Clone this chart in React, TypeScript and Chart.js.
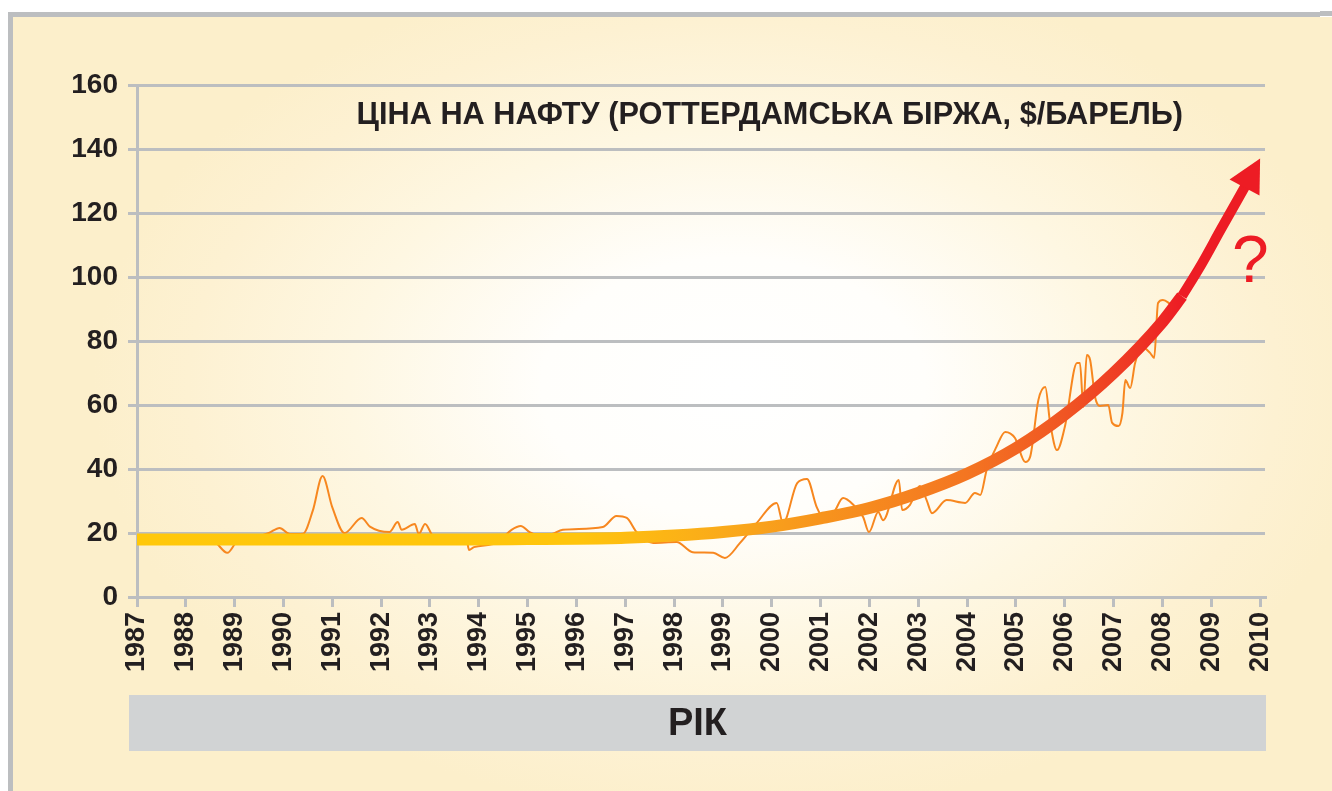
import React, { useEffect, useRef } from "react";
import { Chart, registerables } from "chart.js";
Chart.register(...registerables);

// ---- data ----
const yearTicks = [1987, 1988, 1989, 1990, 1991, 1992, 1993, 1994, 1995, 1996, 1997, 1998, 1999, 2000, 2001, 2002, 2003, 2004, 2005, 2006, 2007, 2008, 2009, 2010];
const valueTicks = [0, 20, 40, 60, 80, 100, 120, 140, 160];

// monthly price (thin line)
const priceYears = [
  1987.0, 1987.5, 1988.0, 1988.5, 1988.6, 1988.85, 1989.04, 1989.3, 1989.7, 1989.92,
  1990.13, 1990.4, 1990.6, 1990.8, 1991.0, 1991.25, 1991.6, 1991.77, 1992.17, 1992.34,
  1992.42, 1992.69, 1992.77, 1992.9, 1993.03, 1993.16, 1993.5, 1993.75, 1993.8, 1993.9,
  1994.37, 1994.67, 1994.86, 1995.04, 1995.3, 1995.5, 1995.72, 1996.54, 1996.82, 1997.03,
  1997.23, 1997.57, 1998.05, 1998.38, 1998.8, 1999.04, 1999.35, 1999.69, 2000.1, 2000.23,
  2000.52, 2000.72, 2000.92, 2001.05, 2001.26, 2001.46, 2001.67, 2001.87, 2001.99, 2002.18,
  2002.28, 2002.6, 2002.67, 2002.83, 2003.03, 2003.17, 2003.28, 2003.58, 2003.96, 2004.16,
  2004.27, 2004.4, 2004.6, 2004.78, 2004.98, 2005.19, 2005.29, 2005.46, 2005.6, 2005.7,
  2005.84, 2006.0, 2006.25, 2006.31, 2006.38, 2006.45, 2006.52, 2006.62, 2006.72, 2006.89,
  2006.97, 2007.1, 2007.18, 2007.24, 2007.34, 2007.44, 2007.58, 2007.75, 2007.83, 2007.91,
  2008.01, 2008.12, 2008.25,
];
const priceValues = [
  18.2, 18, 18, 17.8, 17.2, 13.8, 17.2, 18.2, 20, 21.6,
  19.7, 19.8, 27, 37.8, 28, 20, 24.7, 22, 20.3, 23.4,
  21, 22.8, 19.7, 22.8, 19.7, 16.9, 17.5, 17.8, 14.7, 15.6,
  16.9, 21, 22.2, 20.3, 19, 19.7, 21, 21.9, 25.3, 24.7,
  20.3, 16.9, 17.2, 14, 13.8, 12.2, 16.9, 23.1, 29.4, 23.1,
  35.6, 36.9, 28.1, 25, 26.2, 30.9, 28.8, 25, 20.3, 26.6,
  24, 36.6, 27.2, 28.8, 34.7, 30.3, 26.2, 30.3, 29.4, 32.5,
  31.9, 39.7, 46.9, 51.6, 49.7, 42.2, 43.8, 61.6, 65.6, 54.4,
  45.9, 53.1, 73.1, 73.1, 59.4, 75.6, 74, 62.5, 59.7, 60,
  54.4, 53.4, 57.5, 67.8, 65.3, 73.1, 78.1, 76.2, 74.7, 91.9,
  92.8, 92, 90,
];

// trend (thick gradient line)
const trendYears = [1987, 1988, 1989, 1990, 1991, 1992, 1993, 1994, 1995, 1996, 1997, 1998, 1999, 2000, 2001, 2002, 2003, 2004, 2005, 2006, 2007, 2008, 2008.4];
const trendValues = [18, 18, 18, 18, 18, 18, 18, 18, 18.1, 18.2, 18.5, 19.2, 20.3, 22, 24.6, 27.8, 32.5, 38.5, 46.5, 57, 70, 86, 94];

// forecast arrow
const forecastYears = [2008.4, 2008.8, 2009.2, 2009.7];
const forecastValues = [94, 104, 115, 128.5];
const arrowTipYear = 2010;
const arrowTipValue = 137;

const titleText = "ЦІНА НА НАФТУ (РОТТЕРДАМСЬКА БІРЖА, $/БАРЕЛЬ)";
const axisTitle = "РІК";
const questionText = "?";
const questionYear = 2009.8;
const questionValue = 98.5;

// ---- styles ----
const FONT = "'Liberation Sans', Arial, Helvetica, sans-serif";
const GRAY = "#BCBEC0";
const TEXT = "#231F20";
const RED = "#ED1C24";
const THIN = "#F7871F";

const overlayPlugin = {
  id: "overlay",
  afterDatasetsDraw(chart: any) {
    const { ctx, chartArea, scales } = chart;
    const x = scales.x, y = scales.y;
    ctx.save();
    // arrowhead
    const n = forecastYears.length;
    const bx = x.getPixelForValue(forecastYears[n - 1]);
    const by = y.getPixelForValue(forecastValues[n - 1]);
    const tx = x.getPixelForValue(arrowTipYear);
    const ty = y.getPixelForValue(arrowTipValue);
    const dx = tx - bx, dy = ty - by, len = Math.hypot(dx, dy);
    const px = -dy / len, py = dx / len;
    const hw = 17;
    ctx.fillStyle = RED;
    ctx.beginPath();
    ctx.moveTo(tx, ty);
    ctx.lineTo(bx + px * hw - dx / len * 2, by + py * hw - dy / len * 2);
    ctx.lineTo(bx - px * hw - dx / len * 2, by - py * hw - dy / len * 2);
    ctx.closePath();
    ctx.fill();
    // question mark
    ctx.font = `66px ${FONT}`;
    ctx.textAlign = "center";
    ctx.textBaseline = "alphabetic";
    ctx.fillStyle = RED;
    ctx.fillText(questionText, x.getPixelForValue(questionYear), y.getPixelForValue(questionValue));
    // title
    ctx.font = `bold 30.7px ${FONT}`;
    ctx.fillStyle = TEXT;
    ctx.textAlign = "center";
    ctx.fillText(titleText, chartArea.left + (chartArea.right - chartArea.left) * 0.561, chartArea.top + 39);
    ctx.restore();
  },
  afterDraw(chart: any) {
    const { ctx, chartArea } = chart;
    ctx.save();
    const left = chartArea.left - 8;
    const right = chartArea.right + 1;
    const top = chartArea.bottom + 98;
    const h = 56;
    ctx.fillStyle = "#D1D3D4";
    ctx.fillRect(left, top, right - left, h);
    ctx.fillStyle = TEXT;
    ctx.font = `bold 38px ${FONT}`;
    ctx.textAlign = "center";
    ctx.textBaseline = "middle";
    ctx.fillText(axisTitle, (left + right) / 2, top + h / 2 + 2);
    ctx.restore();
  },
};

function trendGradient(ctx: any) {
  const chart = ctx.chart;
  const area = chart.chartArea;
  if (!area) return "#F7941D";
  const xs = chart.scales.x;
  const x0 = xs.getPixelForValue(1987);
  const x1 = xs.getPixelForValue(2008.4);
  const g = chart.ctx.createLinearGradient(x0, 0, x1, 0);
  const f = (yr: number) => (xs.getPixelForValue(yr) - x0) / (x1 - x0);
  g.addColorStop(0, "#FFC80A");
  g.addColorStop(f(1996), "#FFC50D");
  g.addColorStop(f(1999), "#FAAA1A");
  g.addColorStop(f(2001), "#F7941D");
  g.addColorStop(f(2004), "#F47521");
  g.addColorStop(f(2006), "#F05523");
  g.addColorStop(f(2007.5), "#EE3424");
  g.addColorStop(1, "#ED1C24");
  return g;
}

export default function App() {
  const ref = useRef<HTMLCanvasElement>(null);
  useEffect(() => {
    if (!ref.current) return;
    const chart = new Chart(ref.current, {
      type: "line",
      data: {
        datasets: [
          {
            data: priceYears.map((v, i) => ({ x: v, y: priceValues[i] })),
            borderColor: THIN,
            borderWidth: 2,
            pointRadius: 0,
            cubicInterpolationMode: "monotone",
            fill: false,
            order: 3,
          },
          {
            data: trendYears.map((v, i) => ({ x: v, y: trendValues[i] })),
            borderColor: trendGradient,
            borderWidth: 12,
            pointRadius: 0,
            cubicInterpolationMode: "monotone",
            fill: false,
            order: 2,
          },
          {
            data: forecastYears.map((v, i) => ({ x: v, y: forecastValues[i] })),
            borderColor: RED,
            borderWidth: 10,
            pointRadius: 0,
            cubicInterpolationMode: "monotone",
            fill: false,
            order: 1,
          },
        ],
      } as any,
      options: {
        responsive: false,
        animation: false,
        events: [],
        layout: { padding: { left: 20, top: 85, right: 67, bottom: 94 } },
        plugins: {
          legend: { display: false },
          tooltip: { enabled: false },
          title: { display: false },
        },
        scales: {
          x: {
            type: "linear",
            min: 1987,
            max: 2010.1,
            afterBuildTicks: (s: any) => {
              s.ticks = yearTicks.map((v) => ({ value: v }));
            },
            afterFit: (s: any) => {
              s.height = 100;
            },
            ticks: {
              minRotation: 90,
              maxRotation: 90,
              autoSkip: false,
              padding: 5,
              color: TEXT,
              font: { family: FONT, size: 27, weight: "bold" },
              callback: (v: any) => String(v),
            },
            grid: { drawOnChartArea: false, drawTicks: true, tickLength: 10, color: GRAY, lineWidth: 3 },
            border: { display: true, color: GRAY, width: 3 },
          },
          y: {
            min: 0,
            max: 160,
            afterBuildTicks: (s: any) => {
              s.ticks = valueTicks.map((v) => ({ value: v }));
            },
            afterFit: (s: any) => {
              s.width = 117;
            },
            ticks: {
              padding: 10,
              color: TEXT,
              font: { family: FONT, size: 28, weight: "bold" },
              callback: (v: any) => String(v),
            },
            grid: { color: GRAY, lineWidth: 3, tickLength: 9 },
            border: { display: true, color: GRAY, width: 3 },
          },
        },
      } as any,
      plugins: [overlayPlugin],
    });
    return () => chart.destroy();
  }, []);

  return (
    <div style={{ position: "absolute", left: 0, top: 0, width: 1332, height: 791, background: "#ffffff", overflow: "hidden" }}>
      <div
        style={{
          position: "absolute",
          left: 13,
          top: 17,
          right: 0,
          bottom: 0,
          background:
            "radial-gradient(ellipse 640px 430px at 720px 370px, #ffffff 0%, #fffefb 30%, #fef7e2 60%, #fdf1d2 85%, #fcefcb 100%)",
        }}
      />
      <div style={{ position: "absolute", left: 9, top: 12, width: 1311, height: 5, background: GRAY }} />
      <div style={{ position: "absolute", left: 1320, top: 11, width: 12, height: 5, background: GRAY }} />
      <div style={{ position: "absolute", left: 8, top: 12, width: 5, height: 779, background: GRAY }} />
      <canvas ref={ref} width={1332} height={791} style={{ position: "absolute", left: 0, top: 0, width: 1332, height: 791 }} />
    </div>
  );
}
